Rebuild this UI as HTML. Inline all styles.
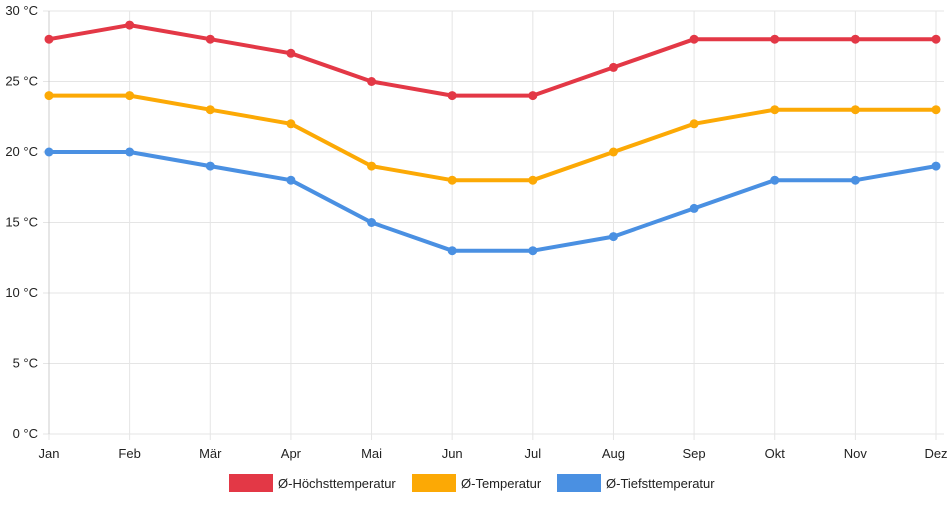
<!DOCTYPE html>
<html><head><meta charset="utf-8"><style>
body{margin:0;background:#fff;font-family:"Liberation Sans",sans-serif;}
svg text{font-family:"Liberation Sans",sans-serif;font-size:13px;fill:#222;}
</style></head><body>
<svg id="chart" width="952" height="500"></svg>
<script>
const months=["Jan","Feb","Mär","Apr","Mai","Jun","Jul","Aug","Sep","Okt","Nov","Dez"];
const maxTemp=[28,29,28,27,25,24,24,26,28,28,28,28];
const avgTemp=[24,24,23,22,19,18,18,20,22,23,23,23];
const minTemp=[20,20,19,18,15,13,13,14,16,18,18,19];
const yTicks=[0,5,10,15,20,25,30];
const seriesNames=["Ø-Höchsttemperatur","Ø-Temperatur","Ø-Tiefsttemperatur"];
const seriesColors=["#e33846","#fca905","#4a90e2"];
const NS="http://www.w3.org/2000/svg";
const svg=document.getElementById('chart');
const x0=49,x1=936,yTop=11,yBot=434;
const xs=i=>x0+i*(x1-x0)/(months.length-1);
const ys=v=>yBot-(v-0)/(30-0)*(yBot-yTop);
function mk(t,a){const e=document.createElementNS(NS,t);for(const k in a)e.setAttribute(k,a[k]);svg.appendChild(e);return e;}
yTicks.forEach(v=>{
  const g=mk('line',{x1:x0-6,x2:x1+8,y1:ys(v),y2:ys(v),stroke:'#e5e5e5','stroke-width':1});
  
  
  const t=mk('text',{x:38,y:ys(v)+4,'text-anchor':'end'});t.textContent=v+' °C';
  
  
});
months.forEach((m,i)=>{
  const g=mk('line',{x1:xs(i),x2:xs(i),y1:yTop,y2:yBot+6,stroke:'#e5e5e5','stroke-width':1});
  
  
  const t=mk('text',{x:xs(i),y:458,'text-anchor':'middle'});t.textContent=m;
  
  
});
const ax=mk('line',{x1:x0,x2:x0,y1:yTop,y2:yBot,stroke:'#ccc'});


[maxTemp,avgTemp,minTemp].forEach((d,s)=>{
  const p=mk('polyline',{points:d.map((v,i)=>xs(i)+','+ys(v)).join(' '),fill:'none',stroke:seriesColors[s],'stroke-width':4,'stroke-linejoin':'round'});
  
  
  d.forEach((v,i)=>{
    const c=mk('circle',{cx:xs(i),cy:ys(v),r:4.5,fill:seriesColors[s]});
    
    
  });
});
const lx=[229,412,557];
seriesNames.forEach((n,s)=>{
  const r=mk('rect',{x:lx[s],y:474,width:44,height:18,fill:seriesColors[s]});
  
  
  const t=mk('text',{x:lx[s]+49,y:488});t.textContent=n;
  
  
});
</script>
</body></html>
